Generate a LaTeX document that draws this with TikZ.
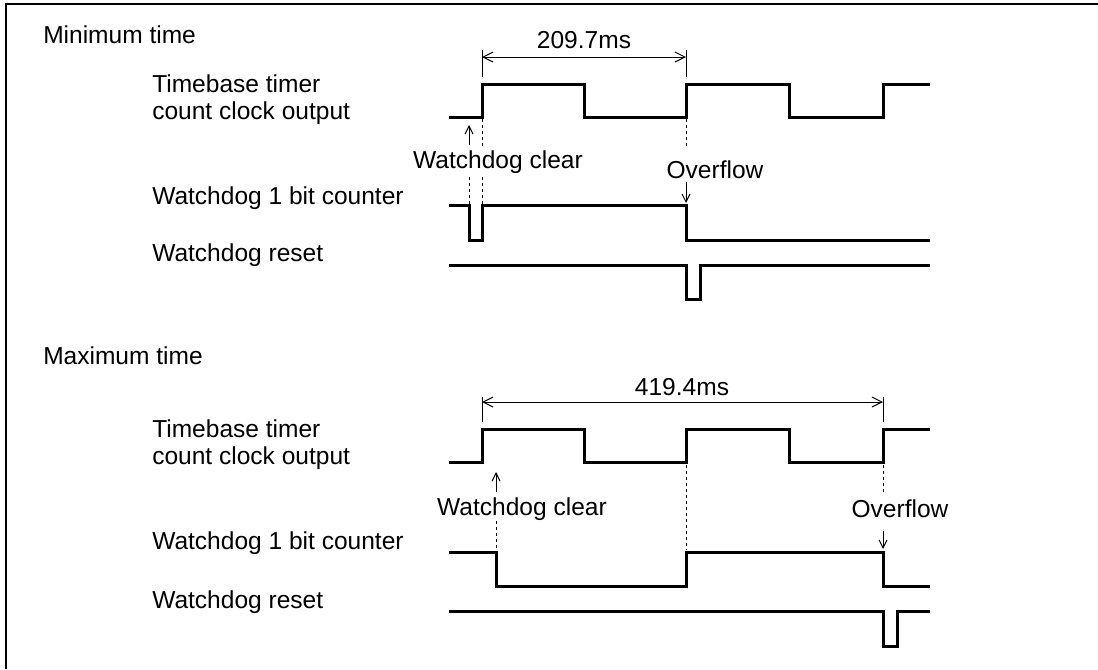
\documentclass[tikz,border=0pt]{standalone}
\usepackage{fontspec}
\setmainfont{Liberation Sans}
\usetikzlibrary{arrows.meta}

\tikzset{
  wave/.style={line width=2.25pt,line join=miter},
  dimline/.style={line width=0.75pt,{Straight Barb[length=7.5pt,width=7.5pt]}-{Straight Barb[length=7.5pt,width=7.5pt]}},
  extline/.style={line width=0.75pt},
  guide/.style={line width=0.75pt,dash pattern=on 2pt off 2.5pt},
  pointer/.style={line width=0.75pt,-{Straight Barb[length=6pt,width=6pt]}},
  lbl/.style={anchor=base west,inner sep=0pt},
  note/.style={anchor=base,inner sep=0pt}
}

\begin{document}
\begin{tikzpicture}[x=0.75pt,y=-0.75pt,font=\fontsize{18.4}{20.25}\selectfont]
  \useasboundingbox (0,0) rectangle (1098,669);
  % frame: only its top and left edges fall inside the page
  \draw[line width=1.5pt] (1098,4) -- (6,4) -- (6,669);

  % timebase clock, the same in both cases (offset 0 / 345)
  \foreach \o in {0,345}{
    \draw[wave] (449,117+\o) -- (482,117+\o) -- (482,84+\o) -- (584,84+\o) -- (584,117+\o)
      -- (686,117+\o) -- (686,84+\o) -- (789,84+\o) -- (789,117+\o) -- (883,117+\o)
      -- (883,84+\o) -- (930,84+\o);
  }

  % ---------- minimum time ----------
  \node[lbl] (mintitle) at (43,43) {Minimum time};
  \node[anchor=west,inner sep=0pt,align=left] (minclk) at (152,100) {Timebase timer\\count clock output};
  \node[lbl] (mincnt) at (152,204) {Watchdog 1 bit counter};
  \node[lbl] (minrst) at (152,261) {Watchdog reset};

  \coordinate (minA) at (482,57);
  \coordinate (minB) at (686,57);
  \draw[extline] (482,50) -- (482,77);
  \draw[extline] (686,50) -- (686,77);
  \draw[dimline] (minA) -- (minB);
  \node[note] (mindim) at (584,48) {209.7ms};

  \draw[wave] (449,205) -- (469,205) -- (469,240) -- (482,240) -- (482,205) -- (686,205)
    -- (686,240) -- (930,240);
  \draw[wave] (449,265) -- (686,265) -- (686,299) -- (700,299) -- (700,265) -- (930,265);

  \node[note] (minclr) at (498,168) {Watchdog clear};
  \coordinate (minclrA) at (469,145);
  \coordinate (minclrB) at (469,125);
  \draw[pointer] (minclrA) -- (minclrB);
  \draw[guide] (482,119) -- (482,148);
  \draw[guide] (482,177) -- (482,204);
  \draw[guide] (469,177) -- (469,204);

  \node[note] (minovf) at (715,178) {Overflow};
  \coordinate (minovfA) at (686,182);
  \coordinate (minovfB) at (686,203);
  \draw[pointer] (minovfA) -- (minovfB);
  \draw[guide] (686,119) -- (686,147);

  % ---------- maximum time ----------
  \node[lbl] (maxtitle) at (43,364) {Maximum time};
  \node[anchor=west,inner sep=0pt,align=left] (maxclk) at (152,445) {Timebase timer\\count clock output};
  \node[lbl] (maxcnt) at (152,549) {Watchdog 1 bit counter};
  \node[lbl] (maxrst) at (152,608) {Watchdog reset};

  \coordinate (maxA) at (482,402);
  \coordinate (maxB) at (883,402);
  \draw[extline] (482,397) -- (482,422);
  \draw[extline] (883,397) -- (883,422);
  \draw[dimline] (maxA) -- (maxB);
  \node[note] (maxdim) at (682,395) {419.4ms};

  \draw[wave] (449,552) -- (496,552) -- (496,586) -- (686,586) -- (686,552) -- (883,552)
    -- (883,586) -- (930,586);
  \draw[wave] (449,611) -- (883,611) -- (883,646) -- (897,646) -- (897,611) -- (930,611);

  \node[note] (maxclr) at (522,515) {Watchdog clear};
  \coordinate (maxclrA) at (496,492);
  \coordinate (maxclrB) at (496,472);
  \draw[pointer] (maxclrA) -- (maxclrB);
  \draw[guide] (496,521) -- (496,550);
  \draw[guide] (686,465) -- (686,550);

  \node[note] (maxovf) at (900,517) {Overflow};
  \coordinate (maxovfA) at (883,531);
  \coordinate (maxovfB) at (883,549);
  \draw[pointer] (maxovfA) -- (maxovfB);
  \draw[guide] (883,465) -- (883,493);
\end{tikzpicture}
\end{document}
